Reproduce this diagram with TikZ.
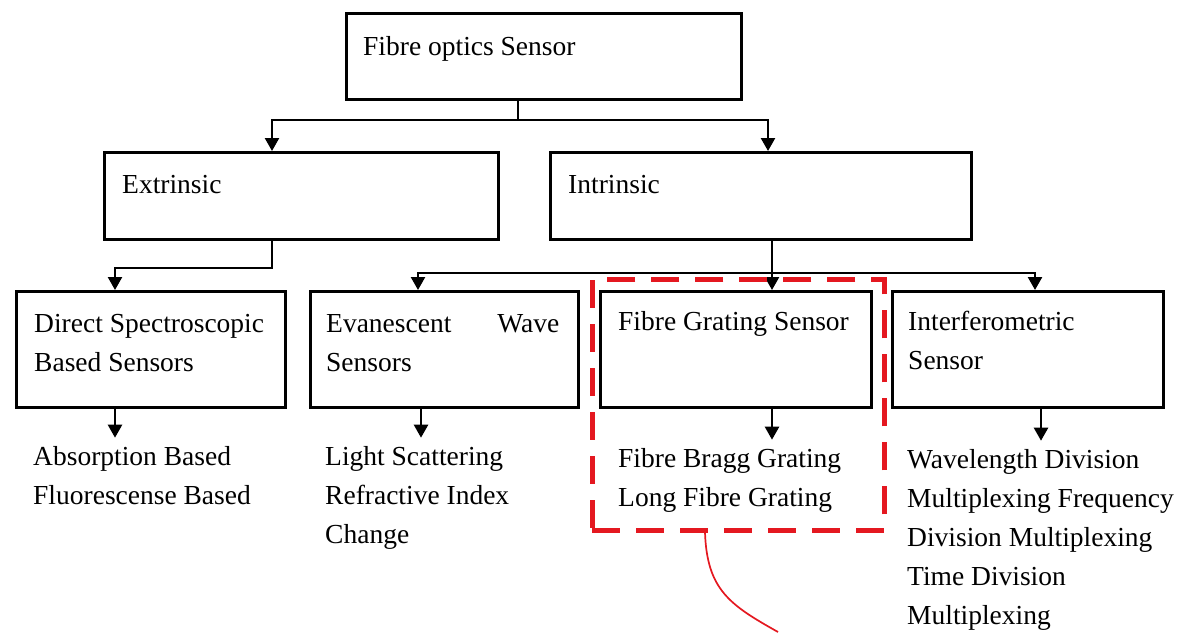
\documentclass[tikz,border=0pt]{standalone}
\usepackage{fontspec}
\setmainfont{Liberation Serif}
\usetikzlibrary{arrows.meta}
\definecolor{grpred}{RGB}{228,24,32}
\begin{document}
\begin{tikzpicture}[x=1pt,y=-1pt,
  box/.style={draw=black, line width=2.9pt, anchor=north west, inner sep=0pt},
  lbl/.style={anchor=north west, inner sep=0pt, align=left, font=\fontsize{27.5}{39}\selectfont},
  ln/.style={draw=black, line width=2.4pt},
  arr/.style={ln, -{Triangle[length=13pt,width=14pt]}},
  grpbox/.style={draw=grpred, line width=4.5pt, dash pattern=on 28pt off 16pt, anchor=north west, inner sep=0pt},
  callout/.style={draw=grpred, line width=1.7pt}]
\useasboundingbox (0,0) rectangle (1177,632);
% x positions
\coordinate (c115) at (115,0);
\coordinate (c272) at (272,0);
\coordinate (c418) at (418,0);
\coordinate (c518) at (518,0);
\coordinate (c768) at (768,0);
\coordinate (c772) at (772,0);
\coordinate (c421) at (421,0);
\coordinate (c1035) at (1035,0);
\coordinate (c1041) at (1041,0);
\coordinate (c705) at (705,0);
\coordinate (cEnd) at (778,632);
% boxes
\node[box, minimum width=395pt, minimum height=86pt] (b0) at (345,12) {};
\node[box, minimum width=394pt, minimum height=87pt] (bExt) at (103,151) {};
\node[box, minimum width=421pt, minimum height=87pt] (bInt) at (549,151) {};
\node[box, minimum width=269pt, minimum height=116pt] (bDir) at (15,290) {};
\node[box, minimum width=268pt, minimum height=116pt] (bEva) at (309,290) {};
\node[box, minimum width=271pt, minimum height=116pt] (bFG) at (599,290) {};
\node[box, minimum width=271pt, minimum height=116pt] (bItf) at (891,290) {};
% texts
\node[lbl] (t0) at (363,27.7) {\strut Fibre optics Sensor};
\node[lbl] (tExt) at (122,165.7) {\strut Extrinsic};
\node[lbl] (tInt) at (568,165.7) {\strut Intrinsic};
\node[lbl] (tDir) at (34,304.7) {\strut Direct Spectroscopic\\Based Sensors};
\node[lbl] (tEva) at (326,304.7) {\strut\makebox[233pt][l]{Evanescent\hfill Wave}\\Sensors};
\node[lbl] (tFG) at (618,302.7) {\strut Fibre Grating Sensor};
\node[lbl] (tItf) at (908,302.7) {\strut Interferometric\\Sensor};
\node[lbl] (tAbs) at (33,437.7) {\strut Absorption Based\\Fluorescense Based};
\node[lbl] (tLig) at (325,437.7) {\strut Light Scattering\\Refractive Index\\Change};
\node[lbl] (tFBG) at (618,439.7) {\strut Fibre Bragg Grating\\Long Fibre Grating};
\node[lbl] (tWav) at (907,440.7) {\strut Wavelength Division\\Multiplexing Frequency\\Division Multiplexing\\Time Division\\Multiplexing};
% connectors
\draw[arr] (b0.south -| c518) -- ++(0,19) -| (bExt.north -| c272);
\draw[arr] (b0.south -| c518) -- ++(0,19) -| (bInt.north -| c768);
\draw[arr] (bExt.south -| c272) -- ++(0,27) -| (bDir.north -| c115);
\draw[arr] (bInt.south -| c772) -- (bFG.north -| c772);
\draw[arr] (bInt.south -| c772) -- ++(0,32) -| (bEva.north -| c418);
\draw[arr] (bInt.south -| c772) -- ++(0,32) -| (bItf.north -| c1035);
\draw[arr] (bDir.south -| c115) -- (tAbs.north -| c115);
\draw[arr] (bEva.south -| c421) -- (tLig.north -| c421);
\draw[arr] (bFG.south -| c772) -- (tFBG.north -| c772);
\draw[arr] (bItf.south -| c1041) -- (tWav.north -| c1041);
% red group box and callout
\node[grpbox, minimum width=292pt, minimum height=251pt] (grp) at (590,277) {};
\draw[callout] (grp.south -| c705) .. controls (707,590) and (730,605) .. (cEnd);
\end{tikzpicture}
\end{document}
